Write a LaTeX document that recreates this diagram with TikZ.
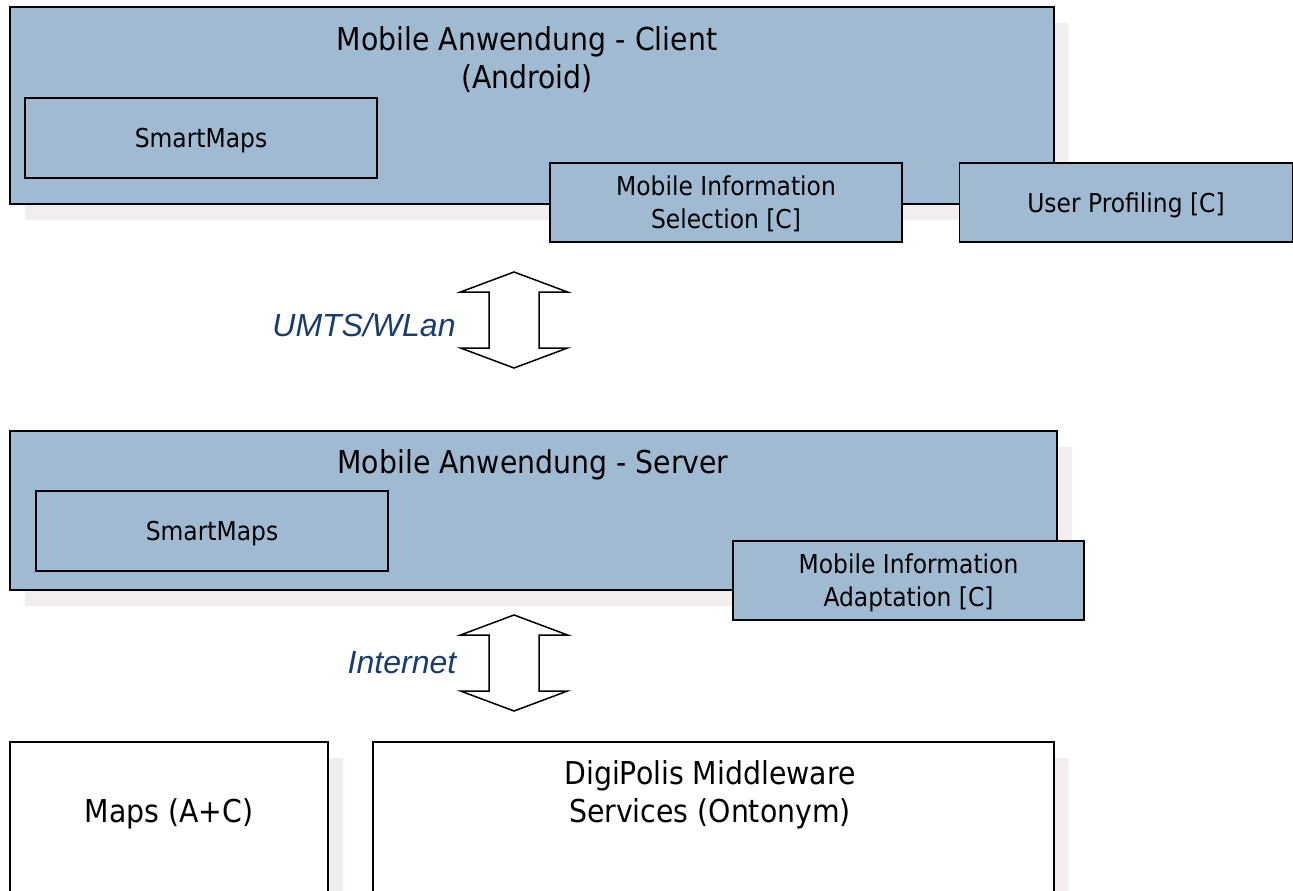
\documentclass[tikz,border=0pt]{standalone}
\usepackage{fontspec}
\setmainfont{DejaVu Sans}[FakeStretch=0.9]
\newfontfamily\linkfont{Liberation Sans}
\usetikzlibrary{shadows}
\definecolor{boxblue}{RGB}{160,186,210}
\definecolor{shadowgray}{RGB}{242,238,238}
\definecolor{linkblue}{RGB}{24,60,110}
\newcommand\titlesize{\fontsize{31.5}{38}\selectfont}
\newcommand\boxsize{\fontsize{26}{33}\selectfont}
\tikzset{
  pics/updown/.style={code={
    \draw[line width=1.5pt, fill=white, line join=miter]
      (0,-48) -- (53.5,-28) -- (25,-28) -- (25,28) -- (53.5,28) -- (0,48)
      -- (-53.5,28) -- (-25,28) -- (-25,-28) -- (-53.5,-28) -- cycle;
  }}
}
\begin{document}
\begin{tikzpicture}[x=1pt, y=-1pt,
  layer/.style={draw, line width=1.6pt, inner sep=0pt,
    drop shadow={fill=shadowgray, opacity=1, shadow xshift=15pt, shadow yshift=-16pt}},
  part/.style={draw, line width=1.6pt, fill=boxblue, inner sep=0pt, text depth=0pt,
    align=center, font=\boxsize},
  linklabel/.style={font=\linkfont\itshape\fontsize{32}{38}\selectfont, text=linkblue}]
\useasboundingbox (0,0) rectangle (1293,891);
\clip (0,0) rectangle (1293,891);
% client tier
\node[layer, fill=boxblue, minimum width=1044, minimum height=197] (client) at (532,105.5) {};
\node[align=center, font=\titlesize] (clienttitle) at (527,60) {Mobile Anwendung - Client\\(Android)};
\node[part, minimum width=352, minimum height=80] (csmart) at (201,138) {SmartMaps};
\node[part, minimum width=352, minimum height=79] (select) at (726,202.5) {Mobile Information\\Selection [C]};
\node[part, minimum width=333, minimum height=79] (profile) at (1126,202.5) {User Profiling [C]};
% radio link
\pic at (514,320) {updown};
\node[linklabel] (umts) at (364,325) {UMTS/WLan};
% server tier
\node[layer, fill=boxblue, minimum width=1047, minimum height=159] (server) at (533.5,510.5) {};
\node[font=\titlesize] (servertitle) at (533,465) {Mobile Anwendung - Server};
\node[part, minimum width=352, minimum height=80] (ssmart) at (212,531) {SmartMaps};
\node[part, minimum width=351, minimum height=79] (adapt) at (908.5,580.5) {Mobile Information\\Adaptation [C]};
% internet link
\pic at (514,663) {updown};
\node[linklabel] (inet) at (402,663) {Internet};
% backend services
\node[layer, fill=white, minimum width=318, minimum height=200] (maps) at (169,842) {};
\node[font=\titlesize] (mapstitle) at (169,814) {Maps (A+C)};
\node[layer, fill=white, minimum width=681, minimum height=200] (digi) at (713.5,842) {};
\node[align=center, font=\titlesize] (digititle) at (710,795) {DigiPolis Middleware\\Services (Ontonym)};
\end{tikzpicture}
\end{document}
